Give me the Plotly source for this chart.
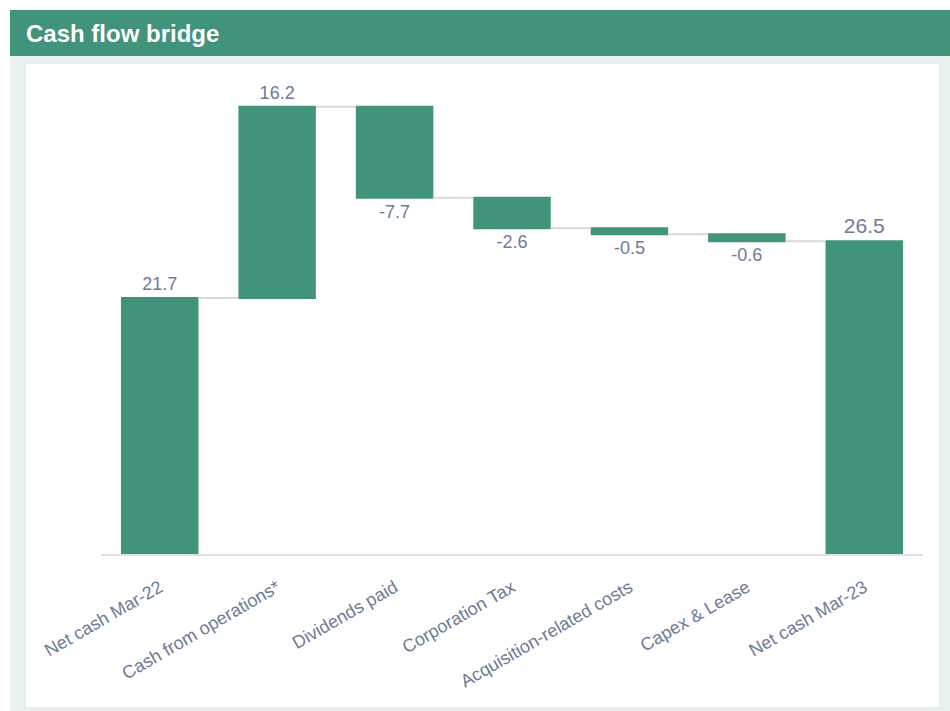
import plotly.graph_objects as go

categories = ["Net cash Mar-22", "Cash from operations*", "Dividends paid", "Corporation Tax",
              "Acquisition-related costs", "Capex & Lease", "Net cash Mar-23"]
values = [21.7, 16.2, -7.7, -2.6, -0.5, -0.6, 26.5]
measures = ["absolute", "relative", "relative", "relative", "relative", "relative", "total"]
labels = [f"{v:.1f}" for v in values]
label_sizes = [18, 18, 18, 18, 18, 18, 21]

GREEN = "#42937B"
TXT = "#6E7A98"
FONT = "Liberation Sans, Arial, sans-serif"

W, H = 950, 711
L, R, T, B = 101, 27, 75, 157
pw, ph = W - L - R, H - T - B

def px(x):
    return (x - L) / pw

def py(y):
    return (H - B - y) / ph

fig = go.Figure(go.Waterfall(
    x=categories, y=values, measure=measures,
    text=labels, textposition="outside",
    textfont=dict(color=TXT, size=label_sizes, family=FONT),
    increasing=dict(marker=dict(color=GREEN)),
    decreasing=dict(marker=dict(color=GREEN)),
    totals=dict(marker=dict(color=GREEN)),
    connector=dict(line=dict(color="#d9d9d9", width=2), mode="between"),
    width=0.66, cliponaxis=False, hoverinfo="skip",
))

shapes = [
    dict(type="rect", xref="paper", yref="paper", x0=px(10), x1=px(950), y0=py(56), y1=py(711),
         fillcolor="#E9F2EF", line=dict(width=0), layer="below"),
    dict(type="rect", xref="paper", yref="paper", x0=px(25), x1=px(940), y0=py(63), y1=py(708),
         fillcolor="white", line=dict(color="#dde3ea", width=1), layer="below"),
    dict(type="rect", xref="paper", yref="paper", x0=px(10), x1=px(950), y0=py(10), y1=py(56),
         fillcolor=GREEN, line=dict(width=0), layer="below"),
]

fig.update_layout(
    width=W, height=H, margin=dict(l=L, r=R, t=T, b=B, autoexpand=False),
    paper_bgcolor="white", plot_bgcolor="rgba(0,0,0,0)",
    showlegend=False, shapes=shapes,
    font=dict(family=FONT, color=TXT),
    xaxis=dict(tickangle=-30, tickfont=dict(size=18, color=TXT, family=FONT),
               showline=True, linecolor="#dde0e6", linewidth=2, showgrid=False,
               ticks="outside", ticklen=14, tickcolor="rgba(0,0,0,0)",
               range=[-0.5, 6.5]),
    yaxis=dict(visible=False, range=[0, 40.6], showgrid=False, zeroline=False),
    annotations=[dict(text="<b>Cash flow bridge</b>", xref="paper", yref="paper",
                      x=px(24), y=py(33), xanchor="left", yanchor="middle", showarrow=False,
                      font=dict(size=24, color="white", family=FONT))],
)

fig.write_html("out.html")
